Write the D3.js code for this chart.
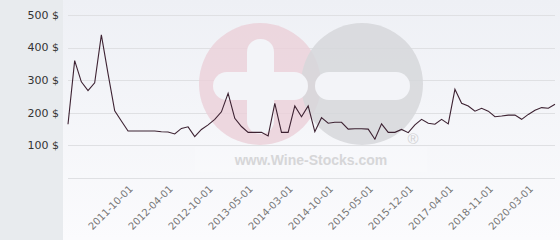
<!DOCTYPE html>
<html>
<head>
<meta charset="utf-8">
<script src="https://cdn.jsdelivr.net/npm/d3@7"></script>
<style>
  body { margin: 0; padding: 0; background: #fff; }
  svg { display: block; }
</style>
</head>
<body>
<div id="chart"></div>
<script>
/* CONSTANTS AND GLOBALS */
const width = 560;
const height = 240;

// one date per point, points are spaced evenly (category axis)
const dates = [
  "2011-01-01", "2011-02-01", "2011-03-01", "2011-04-01", "2011-05-01", "2011-06-01",
  "2011-07-01", "2011-08-01", "2011-09-01", "2011-10-01", "2011-11-01", "2011-12-01",
  "2012-01-01", "2012-02-01", "2012-03-01", "2012-04-01", "2012-05-01", "2012-06-01",
  "2012-07-01", "2012-08-01", "2012-09-01", "2012-10-01", "2012-11-01", "2012-12-01",
  "2013-01-01", "2013-02-01", "2013-04-01", "2013-05-01", "2013-06-01", "2013-08-01",
  "2013-10-01", "2013-12-01", "2014-01-01", "2014-03-01", "2014-04-01", "2014-05-01",
  "2014-06-01", "2014-08-01", "2014-09-01", "2014-10-01", "2014-11-01", "2014-12-01",
  "2015-01-01", "2015-03-01", "2015-04-01", "2015-05-01", "2015-06-01", "2015-08-01",
  "2015-09-01", "2015-10-01", "2015-11-01", "2015-12-01", "2016-03-01", "2016-06-01",
  "2016-09-01", "2016-12-01", "2017-02-01", "2017-04-01", "2017-07-01", "2017-10-01",
  "2018-01-01", "2018-05-01", "2018-08-01", "2018-11-01", "2019-02-01", "2019-05-01",
  "2019-08-01", "2019-10-01", "2020-01-01", "2020-03-01", "2020-06-01", "2020-09-01",
  "2020-12-01", "2021-03-01"
];

// price in $
const prices = [
  165, 360, 295, 268, 292, 439, 320, 206, 175, 144, 144, 144,
  144, 144, 142, 141, 135, 152, 157, 127, 149, 163, 180, 203,
  260, 183, 158, 140, 140, 140, 129, 229, 140, 140, 221, 188,
  221, 142, 185, 168, 171, 171, 150, 151, 151, 150, 119, 166,
  140, 140, 149, 139, 163, 180, 168, 165, 180, 166, 272, 229,
  221, 205, 214, 205, 188, 190, 193, 193, 180, 195, 208, 216,
  214, 226
];

// which categories get a label under the axis
const tickDates = [
  "2011-10-01", "2012-04-01", "2012-10-01", "2013-05-01", "2014-03-01", "2014-10-01",
  "2015-05-01", "2015-12-01", "2017-04-01", "2018-11-01", "2020-03-01"
];
const yTicks = [0, 100, 200, 300, 400, 500];

const data = dates.map((d, i) => ({ date: d, price: prices[i] }));

/* SCALES */
const xScale = d3.scalePoint()
  .domain(dates)
  .range([68, 555]);

const yScale = d3.scaleLinear()
  .domain([0, 500])
  .range([178, 15]);

/* HTML ELEMENTS */
const svg = d3.select("#chart")
  .append("svg")
  .attr("width", width)
  .attr("height", height);

const defs = svg.append("defs");
const grad = defs.append("linearGradient")
  .attr("id", "bg")
  .attr("x1", 0).attr("y1", 0).attr("x2", 0).attr("y2", 1);
grad.append("stop").attr("offset", "0%").attr("stop-color", "#eef0f5");
grad.append("stop").attr("offset", "100%").attr("stop-color", "#fbfbfd");

// left strip + plot background
svg.append("rect")
  .attr("width", 63).attr("height", height)
  .attr("fill", "#e8ebee");
svg.append("rect")
  .attr("x", 63).attr("width", width - 63).attr("height", height)
  .attr("fill", "url(#bg)");

// grid
svg.append("g")
  .selectAll("line")
  .data(yTicks)
  .join("line")
  .attr("x1", 68)
  .attr("x2", 555)
  .attr("y1", d => Math.round(yScale(d)) + 0.5)
  .attr("y2", d => Math.round(yScale(d)) + 0.5)
  .attr("stroke", "#dfe0e3")
  .attr("stroke-width", 1);

// watermark
const wm = svg.append("g");
wm.append("circle")
  .attr("cx", 260).attr("cy", 84).attr("r", 61)
  .attr("fill", "#ebd0d8").attr("opacity", 0.8);
wm.append("circle")
  .attr("cx", 362).attr("cy", 84).attr("r", 61)
  .attr("fill", "#d6d7da").attr("opacity", 0.85);
wm.append("rect")
  .attr("x", 213).attr("y", 72).attr("width", 95).attr("height", 28).attr("rx", 14)
  .attr("fill", "#f3f4f8");
wm.append("rect")
  .attr("x", 247).attr("y", 39).attr("width", 27).attr("height", 95).attr("rx", 13)
  .attr("fill", "#f3f4f8");
wm.append("rect")
  .attr("x", 315).attr("y", 72).attr("width", 95).attr("height", 28).attr("rx", 14)
  .attr("fill", "#f3f4f8");
wm.append("rect")
  .attr("x", 195).attr("y", 147).attr("width", 232).attr("height", 25)
  .attr("fill", "#ffffff").attr("opacity", 0.2);
wm.append("text")
  .attr("x", 311).attr("y", 165)
  .attr("text-anchor", "middle")
  .style("font-family", "'Liberation Sans', Arial, sans-serif")
  .style("font-size", "14px")
  .style("font-weight", "bold")
  .style("fill", "#d6d6d8")
  .text("www.Wine-Stocks.com");
wm.append("text")
  .attr("x", 413).attr("y", 144)
  .attr("text-anchor", "middle")
  .style("font-family", "'Liberation Sans', Arial, sans-serif")
  .style("font-size", "15px")
  .style("fill", "#d2d2d4")
  .text("®");

// price line
const line = d3.line()
  .x(d => xScale(d.date))
  .y(d => yScale(d.price));

svg.append("path")
  .datum(data)
  .attr("d", line)
  .attr("fill", "none")
  .attr("stroke", "#3d2232")
  .attr("stroke-width", 1.1)
  .attr("stroke-linejoin", "miter");

// y labels
svg.append("g")
  .selectAll("text")
  .data(yTicks.filter(d => d > 0))
  .join("text")
  .attr("x", 59)
  .attr("y", d => yScale(d))
  .attr("dy", "0.35em")
  .attr("text-anchor", "end")
  .style("font-family", "'DejaVu Sans', sans-serif")
  .style("font-size", "11px")
  .style("fill", "#333")
  .text(d => d + " $");

// x labels
svg.append("g")
  .selectAll("text")
  .data(tickDates)
  .join("text")
  .attr("transform", d => `translate(${xScale(d) + 3},187) rotate(-45)`)
  .attr("text-anchor", "end")
  .attr("dy", "0.35em")
  .style("font-family", "'DejaVu Sans', sans-serif")
  .style("font-size", "10px")
  .style("fill", "#777")
  .text(d => d);
</script>
</body>
</html>
